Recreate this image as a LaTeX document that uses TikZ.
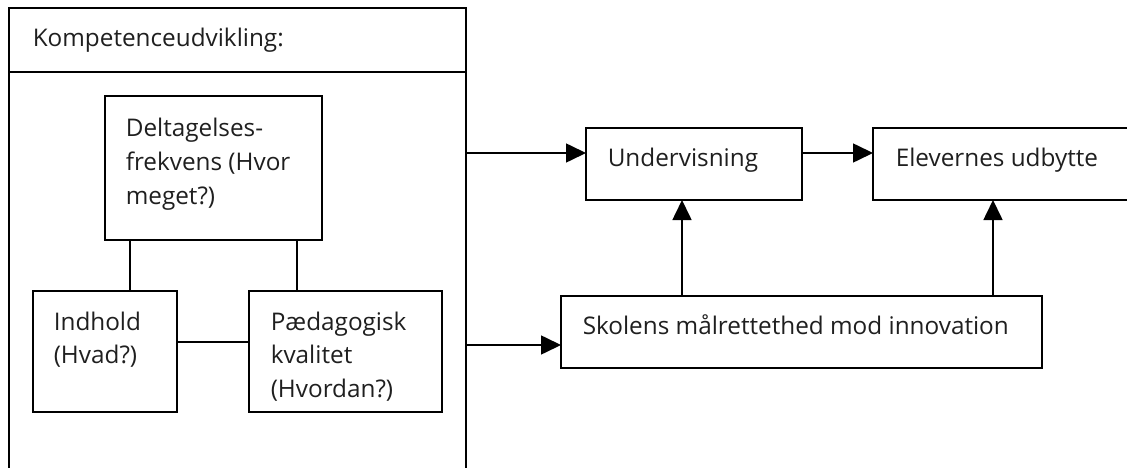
\documentclass[tikz,border=0pt]{standalone}
\usepackage{fontspec}
\setmainfont{Open Sans}
\usetikzlibrary{arrows.meta}
\begin{document}
\begin{tikzpicture}[x=1pt,y=-1pt,
  line width=1.6pt,
  box/.style={draw, rectangle, inner sep=0pt, outer sep=0pt, anchor=north west},
  txt/.style={anchor=base west, inner sep=0pt, align=left, font=\fontsize{24.3}{33.5}\selectfont, text=black!88},
  arr/.style={-{Triangle[length=20pt,width=19pt]}}]
\useasboundingbox (0,0) rectangle (1127,468);
% outer frame
\node[box, minimum width=457pt, minimum height=64pt] (head) at (9,8) {};
\coordinate (bl) at (9,480);
\coordinate (br) at (466,480);
\draw (head.south west) -- (bl);
\draw (head.south east) -- (br);
\node[txt] (headt) at (32,47) {Kompetenceudvikling:};
% inner boxes
\node[box, minimum width=217pt, minimum height=144pt] (delt) at (105,96) {};
\node[box, minimum width=144pt, minimum height=121pt] (ind) at (33,291) {};
\node[box, minimum width=193pt, minimum height=121pt] (pae) at (249,291) {};
\node[txt] (deltt) at (125,204) {Deltagelses-\\frekvens (Hvor\\meget?)};
\node[txt] (indt) at (53,363.5) {Indhold\\(Hvad?)};
\node[txt] (paet) at (270,397) {Pædagogisk\\kvalitet\\(Hvordan?)};
\coordinate (c1) at (130,0);
\coordinate (c2) at (297,0);
\coordinate (c3) at (0,342);
\draw (c1 |- delt.south) -- (c1 |- ind.north);
\draw (c2 |- delt.south) -- (c2 |- pae.north);
\draw (ind.east |- c3) -- (pae.west |- c3);
% right side
\node[box, minimum width=216pt, minimum height=72pt] (und) at (586,128) {};
\node[box, minimum width=267pt, minimum height=72pt] (elev) at (873,128) {};
\node[box, minimum width=481pt, minimum height=72pt] (skol) at (561,296) {};
\node[txt] (undt) at (607,167) {Undervisning};
\node[txt] (elevt) at (895,167) {Elevernes udbytte};
\node[txt] (skolt) at (582,334) {Skolens målrettethed mod innovation};
\coordinate (o1) at (466,153);
\coordinate (o2) at (466,345);
\coordinate (a1) at (682,0);
\coordinate (a2) at (993,0);
\draw[arr] (o1) -- (o1 -| und.west);
\draw[arr] (und.east |- o1) -- (elev.west |- o1);
\draw[arr] (o2) -- (o2 -| skol.west);
\draw[arr] (a1 |- skol.north) -- (a1 |- und.south);
\draw[arr] (a2 |- skol.north) -- (a2 |- elev.south);
\end{tikzpicture}
\end{document}
